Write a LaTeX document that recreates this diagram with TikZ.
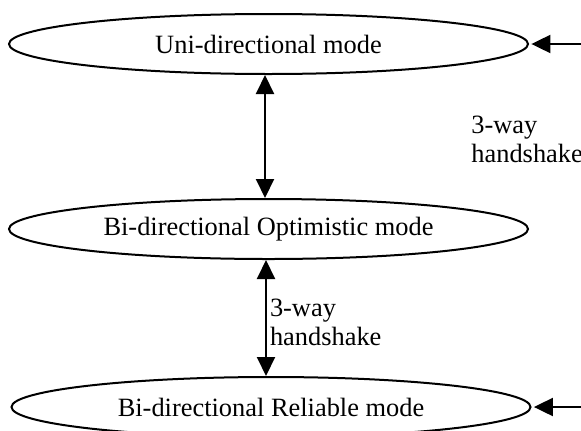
\documentclass[tikz,border=0pt]{standalone}
\usepackage{fontspec}
\setmainfont{Liberation Serif}
\usetikzlibrary{
	positioning				% below=of style placement
	, arrows.meta			% Triangle tips
	, shapes.geometric		% ellipse nodes
}

\begin{document}
\begin{tikzpicture}[x=1pt, y=1pt]
	\begin{scope}[
		mode/.style={draw=black, ellipse, line width=1pt, inner sep=0pt,
			minimum width=259.5pt, minimum height=30pt,
			font=\fontsize{13.2}{14.5}\selectfont},
		trans/.style={line width=1pt, {Triangle[length=9.5pt, width=9pt]}-{Triangle[length=9.5pt, width=9pt]}},
		entry/.style={line width=1pt, -{Triangle[length=9.5pt, width=9pt]}},
		note/.style={align=left, inner sep=0pt, font=\fontsize{13.2}{14.5}\selectfont}]

		\useasboundingbox (0, 0) rectangle (290.5, 215);

		%% Modes
		\node[mode] (uni) at (134.25, 193) {Uni-directional mode};
		\node[mode, below=61.5pt of uni] (opt) {Bi-directional Optimistic mode};
		\node[mode, below=58pt of opt, xshift=1.25pt] (rel) {Bi-directional Reliable mode};

		%% Transitions between modes
		\draw[trans] ([xshift=-1.75pt]uni.south) -- ([xshift=-1.75pt]opt.north);
		\draw[trans] ([xshift=-1.25pt]opt.south) -- ([xshift=-2.5pt]rel.north)
			node[note, midway, anchor=west, xshift=1.5pt, yshift=-2pt] (hsa) {3-way\\handshake};

		%% Entries from the right
		\coordinate[right=28pt of uni.east] (inuni);
		\coordinate[right=28pt of rel.east] (inrel);
		\draw[entry] (inuni) -- ([xshift=1.2pt]uni.east);
		\draw[entry] (inrel) -- ([xshift=1.2pt]rel.east);

		% Side label
		\node[note, anchor=west] (hsb) at (235.5, 145.2) {3-way\\handshake};
	\end{scope}
\end{tikzpicture}
\end{document}
